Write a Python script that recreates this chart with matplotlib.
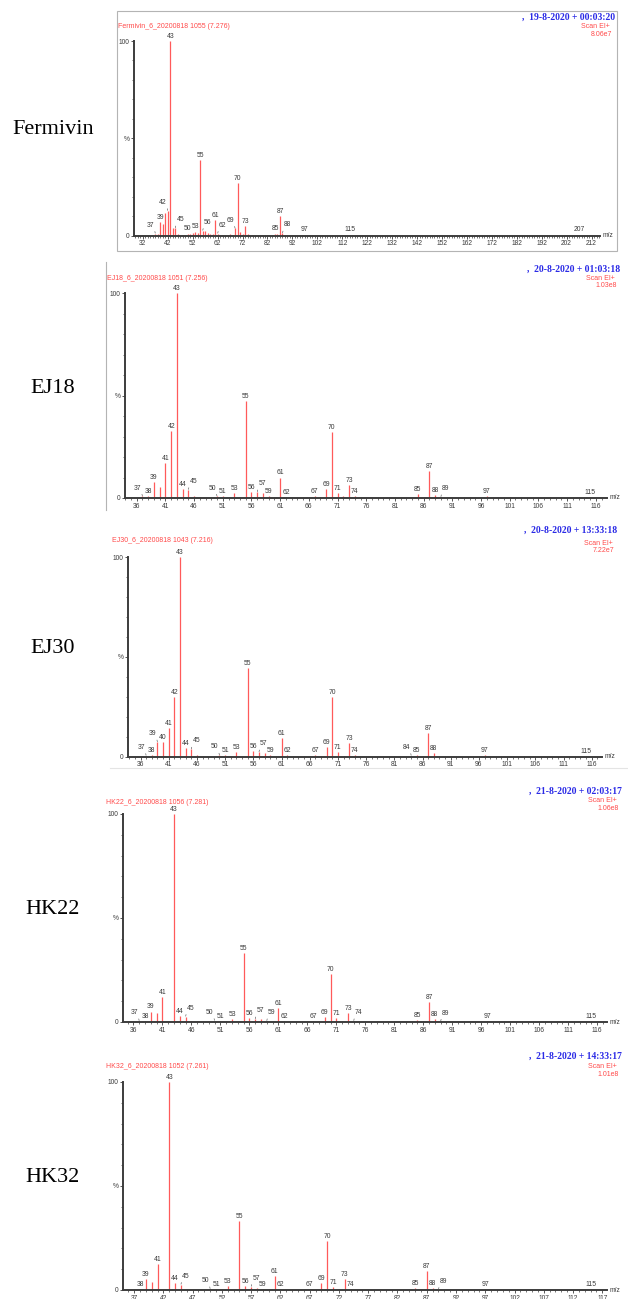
import matplotlib
matplotlib.use('Agg')
import matplotlib.pyplot as plt
from matplotlib.ticker import MultipleLocator
from matplotlib.lines import Line2D
from matplotlib.patches import Rectangle

plt.rcParams['font.family'] = ['Liberation Sans', 'DejaVu Sans']

# ---- data (m/z, relative intensity %) ----
samples = ['Fermivin', 'EJ18', 'EJ30', 'HK22', 'HK32']
run_names = ['Fermivin_6_20200818 1055 (7.276)', 'EJ18_6_20200818 1051 (7.256)',
             'EJ30_6_20200818 1043 (7.216)', 'HK22_6_20200818 1056 (7.281)',
             'HK32_6_20200818 1052 (7.261)']
run_dates = [',  19-8-2020 + 00:03:20', ',  20-8-2020 + 01:03:18', ',  20-8-2020 + 13:33:18',
             ',  21-8-2020 + 02:03:17', ',  21-8-2020 + 14:33:17']
tic_values = ['8.06e7', '1.03e8', '7.22e7', '1.06e8', '1.01e8']

mz1 = [37, 38, 39, 40, 41, 42, 43, 44, 45, 46, 50, 51, 52, 53, 54, 55, 56, 57, 58, 59, 60,
       61, 62, 67, 69, 70, 71, 72, 73, 74, 85, 86, 87, 88, 97, 115, 207]
int1 = [1.0, 0.8, 6.8, 6.0, 11.5, 12.7, 100, 3.8, 3.8, 1.0, 1.0, 0.8, 1.5, 2.0, 1.2, 39, 2.5,
        2.2, 1.2, 0.8, 0.6, 8.0, 1.0, 0.8, 3.6, 27, 2.0, 1.0, 4.8, 0.8, 1.0, 0.8, 9.8, 1.2,
        0.5, 0.5, 0.5]
labels1 = [37, 39, 42, 43, 45, 50, 53, 55, 56, 61, 62, 69, 70, 73, 85, 87, 88, 97, 115, 207]
leaders1 = {37: -1, 42: -1, 45: 1, 56: 1, 62: 1, 69: -1, 88: 1}
ticks1 = list(range(32, 213, 10))

mz2 = [37, 38, 39, 40, 41, 42, 43, 44, 45, 46, 50, 51, 53, 55, 56, 57, 58, 59, 61, 62, 67,
       68, 69, 70, 71, 72, 73, 74, 85, 87, 88, 89, 97, 115]
int2 = [0.8, 1.0, 7.6, 5.4, 17, 32.5, 100, 4.5, 4.0, 1.0, 0.8, 1.0, 2.6, 47.5, 2.8, 2.9, 2.4,
        0.8, 10, 0.5, 0.8, 0.6, 4.4, 32, 2.4, 1.0, 6.2, 1.0, 1.8, 13, 1.5, 0.5, 1.0, 0.5]
labels2 = [37, 38, 39, 41, 42, 43, 44, 45, 50, 51, 53, 55, 56, 57, 59, 61, 62, 67, 69, 70,
           71, 73, 74, 85, 87, 88, 89, 97, 115]
leaders2 = {37: -1, 45: 1, 50: -1, 57: 1, 89: 1}
ticks2 = list(range(36, 117, 5))

mz3 = [37, 38, 39, 40, 41, 42, 43, 44, 45, 46, 50, 51, 53, 55, 56, 57, 58, 59, 61, 62, 67,
       68, 69, 70, 71, 72, 73, 74, 84, 85, 87, 88, 97, 115]
int3 = [0.5, 0.7, 7.3, 7.3, 14.4, 30, 100, 4.5, 3.7, 0.8, 0.7, 0.7, 2.5, 44.5, 3.0, 2.3, 2.0,
        0.7, 9.2, 0.7, 0.7, 0.5, 5.0, 30, 2.3, 0.5, 6.7, 0.8, 0.5, 1.0, 12, 1.7, 0.7, 0.5]
labels3 = [37, 38, 39, 40, 41, 42, 43, 44, 45, 50, 51, 53, 55, 56, 57, 59, 61, 62, 67, 69,
           70, 71, 73, 74, 84, 85, 87, 88, 97, 115]
leaders3 = {37: -1, 39: -1, 45: 1, 50: -1, 57: 1, 84: -1}
ticks3 = list(range(36, 117, 5))

mz4 = [37, 38, 39, 40, 41, 43, 44, 45, 46, 50, 51, 52, 53, 55, 56, 57, 58, 59, 61, 62, 67,
       68, 69, 70, 71, 72, 73, 74, 85, 86, 87, 88, 89, 97, 115]
int4 = [0.5, 0.6, 5.0, 4.3, 12.2, 100, 2.9, 2.6, 0.5, 0.6, 0.6, 0.5, 1.4, 33, 2.0, 1.4, 1.3,
        0.5, 6.9, 0.6, 0.6, 0.6, 2.2, 23, 2.0, 0.6, 4.2, 0.5, 1.0, 0.6, 9.5, 1.3, 0.3, 0.5, 0.3]
labels4 = [37, 38, 39, 41, 43, 44, 45, 50, 51, 53, 55, 56, 57, 59, 61, 62, 67, 69, 70, 71,
           73, 74, 85, 87, 88, 89, 97, 115]
leaders4 = {37: -1, 45: 1, 50: -1, 57: 1, 59: 1, 74: 1, 89: 1}
ticks4 = list(range(36, 117, 5))

mz5 = [38, 39, 40, 41, 43, 44, 45, 46, 50, 51, 53, 55, 56, 57, 58, 59, 60, 61, 62, 67, 69,
       70, 71, 72, 73, 74, 85, 87, 88, 89, 97, 115]
int5 = [0.6, 5.3, 4.0, 12.5, 100, 3.2, 2.6, 0.5, 0.5, 0.4, 1.8, 33, 1.8, 1.6, 1.0, 0.5, 0.4,
        6.7, 0.5, 0.5, 3.2, 23.5, 1.4, 0.4, 5.4, 0.5, 1.1, 9.1, 0.8, 0.2, 0.5, 0.3]
labels5 = [38, 39, 41, 43, 44, 45, 50, 51, 53, 55, 56, 57, 59, 61, 62, 67, 69, 70, 71, 73,
           74, 85, 87, 88, 89, 97, 115]
leaders5 = {45: 1, 50: -1, 57: 1, 89: 1}
ticks5 = list(range(37, 118, 5))

# ---- layout in pixels (left, top, right, bottom of plot area), x limits ----
W, H = 628, 1299
boxes = [(134, 41, 600, 235.5), (125, 293.3, 606.7, 498), (128, 557, 601.7, 756.7),
         (123, 814, 607, 1022), (123, 1082, 607, 1290)]
xlims = [(28.44, 215.4), (33.96, 117.9), (33.78, 117.77), (34.2, 117.7), (35.1, 117.8)]
name_y = [130, 388, 648, 910, 1177]
header_pos = [  # name x, name y, date right x, date y, scan y, tic y
    (118, 27, 615, 17, 27, 34.3),
    (107, 278.7, 620, 269, 279, 285.5),
    (111.7, 540.7, 617.7, 530.7, 544, 550.5),
    (106, 802.3, 621.7, 791.7, 801, 808.3),
    (106, 1066.7, 621.7, 1056.7, 1066.7, 1075),
]

PEAK = '#ff5a5a'
AXIS = '#3c3c3c'
TXT = '#3a3a3a'
RED = '#ff4a4a'
BLUE = '#2a2ae6'


def fx(x):
    return x / W


def fy(y):
    return 1 - y / H


def draw_spectrum(fig, box, xlim, ticks, mz, inten, labels, leaders):
    left, top, right, bottom = box
    ax = fig.add_axes([fx(left), fy(bottom), (right - left) / W, (bottom - top) / H])
    ax.patch.set_alpha(0)
    ax.vlines(mz, 0, inten, color=PEAK, lw=0.9)
    ax.set_xlim(*xlim)
    ax.set_ylim(0, 100)
    for s in ['top', 'right']:
        ax.spines[s].set_visible(False)
    for s in ['left', 'bottom']:
        ax.spines[s].set_color(AXIS)
        ax.spines[s].set_linewidth(1.4)
    ax.set_xticks(ticks)
    ax.xaxis.set_minor_locator(MultipleLocator(1))
    ax.set_yticks([0, 50, 100])
    ax.set_yticklabels(['0', '%', '100'])
    ax.yaxis.set_minor_locator(MultipleLocator(10))
    ax.tick_params(axis='both', which='major', length=2.4, width=0.6, color=AXIS,
                   labelsize=4.8, labelcolor=TXT, pad=1)
    ax.tick_params(axis='both', which='minor', length=1.3, width=0.5, color=AXIS)
    ax.text(1.006, 0, 'm/z', transform=ax.transAxes, ha='left', va='center',
            fontsize=4.8, color=TXT)
    for m in labels:
        h = inten[mz.index(m)]
        d = leaders.get(m, 0)
        if d:
            ax.annotate(str(m), xy=(m, h), xytext=(d * 3.5, 3.5), textcoords='offset points',
                        ha='center', va='bottom', fontsize=4.9, color=TXT,
                        annotation_clip=False,
                        arrowprops=dict(arrowstyle='-', color='#555555', lw=0.45,
                                        shrinkA=0, shrinkB=0.3,
                                        relpos=(1 if d < 0 else 0, 0)))
        else:
            ax.annotate(str(m), xy=(m, h), xytext=(0, 0.8), textcoords='offset points',
                        ha='center', va='bottom', fontsize=4.9, color=TXT,
                        annotation_clip=False)
    return ax


fig = plt.figure(figsize=(W / 100, H / 100), dpi=100)

# frames around the first spectrum and the left border of the second
fig.add_artist(Rectangle((fx(117), fy(251)), 500 / W, 240 / H, transform=fig.transFigure,
                         fill=False, edgecolor='#b4b4b4', lw=0.8))
fig.add_artist(Line2D([fx(106), fx(106)], [fy(262), fy(510)], transform=fig.transFigure,
                      color='#b4b4b4', lw=0.8))
fig.add_artist(Line2D([fx(110), fx(628)], [fy(768), fy(768)], transform=fig.transFigure,
                      color='#e4e4e4', lw=0.8))

all_mz = [mz1, mz2, mz3, mz4, mz5]
all_int = [int1, int2, int3, int4, int5]
all_labels = [labels1, labels2, labels3, labels4, labels5]
all_leaders = [leaders1, leaders2, leaders3, leaders4, leaders5]
all_ticks = [ticks1, ticks2, ticks3, ticks4, ticks5]

for i in range(5):
    draw_spectrum(fig, boxes[i], xlims[i], all_ticks[i], all_mz[i], all_int[i],
                  all_labels[i], all_leaders[i])
    nx, ny, dx, dy, sy, ty = header_pos[i]
    fig.text(fx(nx), fy(ny), run_names[i], ha='left', va='center', fontsize=5, color=RED)
    fig.text(fx(dx), fy(dy), run_dates[i], ha='right', va='center', fontsize=6.9,
             color=BLUE, family='Liberation Serif', weight='bold')
    fig.text(fx(dx - 5), fy(sy), 'Scan EI+', ha='right', va='center', fontsize=5, color=RED)
    fig.text(fx(dx - 3), fy(ty), tic_values[i], ha='right', va='center', fontsize=5, color=RED)
    fig.text(fx(53), fy(name_y[i]), samples[i], ha='center', va='center', fontsize=16,
             family='Liberation Serif', color='black')

fig.savefig('out.png', dpi=100, facecolor='white')
